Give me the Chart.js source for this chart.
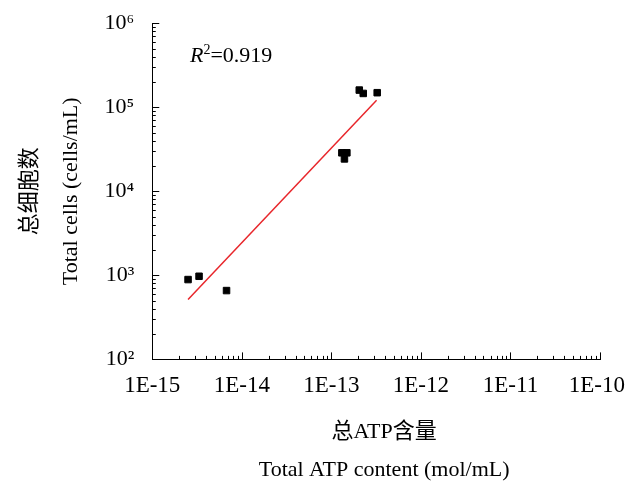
<!DOCTYPE html>
<html>
<head>
<meta charset="utf-8">
<script src="https://cdn.jsdelivr.net/npm/chart.js@4"></script>
<style>
  body { margin: 0; background: #fff; }
  canvas { display: block; }
</style>
</head>
<body>
<canvas id="atpChart" width="626" height="486"></canvas>
<script>
// measured points (ATP mol/mL vs cells/mL)
const atpContent = [2.51e-15, 3.33e-15, 6.75e-15, 1.31e-13, 1.49e-13, 1.40e-13, 2.05e-13, 2.27e-13, 3.25e-13];
const totalCells = [891, 975, 659, 28700, 28700, 24300, 160000, 146000, 149000];

// fitted line end points
const fitAtp = [2.51e-15, 3.2e-13];
const fitCells = [515, 121000];

const xDecades = [1e-15, 1e-14, 1e-13, 1e-12, 1e-11, 1e-10];
const yDecades = [1e2, 1e3, 1e4, 1e5, 1e6];
const xTickLabels = ["1E-15", "1E-14", "1E-13", "1E-12", "1E-11", "1E-10"];
const yTickLabels = ["10²", "10³", "10⁴", "10⁵", "10⁶"];
const xTitleLines = ["总ATP含量", "Total ATP content (mol/mL)"];

const serif = "'Liberation Serif', 'Times New Roman', 'Noto Sans CJK SC', serif";

// inward ticks, last x label, x title and R² text
const innerTicks = {
  id: "innerTicks",
  afterDraw(chart) {
    const ctx = chart.ctx;
    const xs = chart.scales.x;
    const ys = chart.scales.y;
    const area = chart.chartArea;
    ctx.save();
    ctx.strokeStyle = "#000";
    ctx.lineWidth = 1;
    ctx.beginPath();
    xDecades.forEach((d, i) => {
      const last = i === xDecades.length - 1;
      for (let k = 1; k <= (last ? 1 : 9); k++) {
        const px = Math.round(xs.getPixelForValue(k * d)) + 0.5;
        const len = k === 1 ? 7 : 3.5;
        ctx.moveTo(px, area.bottom);
        ctx.lineTo(px, area.bottom - len);
      }
    });
    yDecades.forEach((d, i) => {
      const last = i === yDecades.length - 1;
      for (let k = 1; k <= (last ? 1 : 9); k++) {
        const py = Math.round(ys.getPixelForValue(k * d)) + 0.5;
        const len = k === 1 ? 7 : 3.5;
        ctx.moveTo(area.left, py);
        ctx.lineTo(area.left + len, py);
      }
    });
    ctx.stroke();

    ctx.fillStyle = "#000";

    // last x label sits inside the canvas edge, like the original
    ctx.textAlign = "right";
    ctx.textBaseline = "middle";
    ctx.font = "23px " + serif;
    ctx.fillText(xTickLabels[xTickLabels.length - 1], chart.width - 1, area.bottom + 26.5);

    // x axis title, two lines
    ctx.textAlign = "center";
    ctx.font = "22px " + serif;
    const cx = (area.left + area.right) / 2 + 8;
    ctx.fillText(xTitleLines[0], cx, area.bottom + 73);
    ctx.fillText(xTitleLines[1], cx, area.bottom + 111);

    // R² note
    ctx.textAlign = "left";
    ctx.textBaseline = "alphabetic";
    let x = 190, y = 62;
    ctx.font = "italic 22px " + serif;
    ctx.fillText("R", x, y);
    x += ctx.measureText("R").width;
    ctx.font = "14px " + serif;
    ctx.fillText("2", x, y - 8);
    x += ctx.measureText("2").width;
    ctx.font = "22px " + serif;
    ctx.fillText("=0.919", x, y);
    ctx.restore();
  }
};

new Chart(document.getElementById("atpChart").getContext("2d"), {
  type: "scatter",
  data: {
    datasets: [
      {
        label: "cells",
        data: atpContent.map((v, i) => ({ x: v, y: totalCells[i] })),
        pointStyle: "rect",
        pointRadius: 4.6,
        backgroundColor: "#000",
        borderColor: "#000",
        borderWidth: 1,
      },
      {
        label: "fit",
        data: fitAtp.map((v, i) => ({ x: v, y: fitCells[i] })),
        showLine: true,
        borderColor: "#e8262b",
        borderWidth: 1.5,
        pointRadius: 0,
      },
    ],
  },
  options: {
    responsive: false,
    animation: false,
    layout: { padding: { top: 0, right: 26, left: 9, bottom: 81 } },
    plugins: { legend: { display: false }, tooltip: { enabled: false } },
    scales: {
      x: {
        type: "logarithmic",
        min: 1e-15,
        max: 1e-10,
        afterBuildTicks: (s) => { s.ticks = xDecades.map((v) => ({ value: v })); },
        afterFit: (s) => { s.paddingRight = 0; },
        ticks: {
          autoSkip: false,
          maxRotation: 0,
          padding: 5,
          color: "#000",
          font: { family: serif, size: 23 },
          // the last label is drawn by the plugin so it stays on the canvas
          callback: (v) => {
            const i = xDecades.findIndex((d) => Math.abs(Math.log10(d) - Math.log10(v)) < 1e-6);
            return i === xDecades.length - 1 ? "" : xTickLabels[i];
          },
        },
        grid: { display: false },
        border: { display: true, color: "#000", width: 1 },
        title: { display: false },
      },
      y: {
        type: "logarithmic",
        min: 1e2,
        max: 1e6,
        afterBuildTicks: (s) => { s.ticks = yDecades.map((v) => ({ value: v })); },
        ticks: {
          autoSkip: false,
          padding: 10,
          color: "#000",
          font: { family: serif, size: 22 },
          callback: (v) => yTickLabels[yDecades.findIndex((d) => Math.abs(Math.log10(d) - Math.log10(v)) < 1e-6)],
        },
        grid: { display: false },
        border: { display: true, color: "#000", width: 1 },
        title: {
          display: true,
          text: ["总细胞数", "Total cells (cells/mL)"],
          color: "#000",
          font: { family: serif, size: 22, lineHeight: 1.9 },
          padding: { top: 0, bottom: 2 },
        },
      },
    },
  },
  plugins: [innerTicks],
});
</script>
</body>
</html>
